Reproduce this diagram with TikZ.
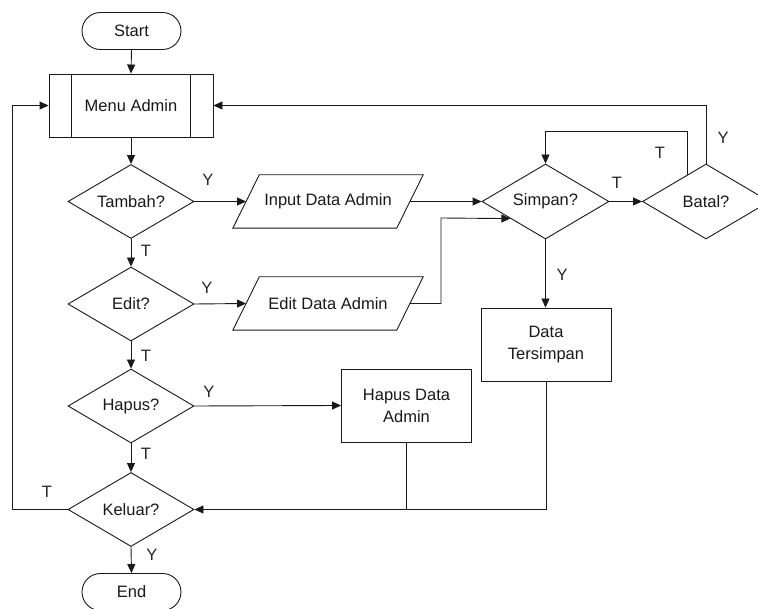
\documentclass[tikz,border=0pt]{standalone}
\usepackage{fontspec}
\setmainfont{Liberation Sans}
\usetikzlibrary{shapes.geometric,arrows.meta,calc}
\begin{document}
\begin{tikzpicture}[x=1pt,y=-1pt,
  every node/.style={font=\fontsize{16.5}{22}\selectfont, text=black!90},
  ln/.style={draw=black!90, line width=0.9pt},
  arr/.style={ln, -{Triangle[length=9pt,width=8pt]}},
  term/.style={ln, rectangle, rounded corners=18.5pt, minimum width=99pt, minimum height=37pt, inner sep=0pt},
  proc/.style={ln, rectangle, minimum width=130pt, minimum height=73pt, inner sep=0pt, align=center},
  dec/.style={ln, diamond, aspect=1.7, minimum width=126pt, minimum height=74pt, inner sep=0pt},
  io/.style={rectangle, minimum width=163.5pt, minimum height=53pt, inner sep=0pt},
  lbl/.style={inner sep=0pt, text=black!85}
]
\useasboundingbox[fill=white] (0,0) rectangle (758,609);

% nodes
\node[term] (start) at (131.5,31) {Start};
\node[ln, rectangle, minimum width=164pt, minimum height=63pt, inner sep=0pt] (menu) at (131,105.5) {Menu Admin};
\draw[ln] ([xshift=23pt]menu.north west) -- ([xshift=23pt]menu.south west);
\draw[ln] ([xshift=-23pt]menu.north east) -- ([xshift=-23pt]menu.south east);

\node[dec] (tambah) at (131,201.5) {Tambah?};
\node[dec] (edit) at (131,304) {Edit?};
\node[dec] (hapus) at (131,406) {Hapus?};
\node[dec] (keluar) at (131,509.5) {Keluar?};
\node[term] (end) at (131.5,592) {End};

\node[io] (input) at (328,201.5) {Input Data Admin};
\draw[ln] ([xshift=-13.25pt]input.south west) -- ([xshift=13.25pt]input.north west)
  -- ([xshift=13.25pt]input.north east) -- ([xshift=-13.25pt]input.south east) -- cycle;
\node[io] (edata) at (328,303.5) {Edit Data Admin};
\draw[ln] ([xshift=-13.25pt]edata.south west) -- ([xshift=13.25pt]edata.north west)
  -- ([xshift=13.25pt]edata.north east) -- ([xshift=-13.25pt]edata.south east) -- cycle;
\node[proc] (hdata) at (406.5,405.5) {Hapus Data\\Admin};

\node[dec, minimum width=127pt, minimum height=75pt] (simpan) at (545.5,201.5) {Simpan?};
\node[dec, minimum width=127pt, minimum height=75pt] (batal) at (706,201.5) {Batal?};
\node[proc] (dts) at (546,344.5) {Data\\Tersimpan};

% helper coordinates
\coordinate (ej) at (441,218);
\coordinate (sptgt) at ($(simpan.west)!0.45!(simpan.south)$);
\coordinate (btT) at ($(batal.west)!0.71!(batal.north)$);
\coordinate (lx) at (12,105.5);

% connectors
\draw[arr] (start.south) -- (menu.north);
\draw[arr] (menu.south) -- (tambah.north);
\draw[arr] (tambah.south) -- (edit.north);
\draw[arr] (edit.south) -- (hapus.north);
\draw[arr] (hapus.south) -- (keluar.north);
\draw[arr] (keluar.south) -- (end.north);

\draw[arr] (tambah.east) -- (input.west);
\draw[arr] (edit.east) -- (edata.west);
\draw[arr] (hapus.east) -- (hdata.west);

\draw[arr] (input.east) -- (simpan.west);
\draw[arr] (edata.east) -| (ej) -- (sptgt);
\draw[arr] (simpan.east) -- (batal.west);
\draw[arr] (btT) |- ([yshift=32pt]simpan.north) -- (simpan.north);
\draw[arr] (batal.north) |- (menu.east);
\draw[arr] (simpan.south) -- (simpan.south |- dts.north);

\draw[ln] (hdata.south) -- (hdata.south |- keluar.east);
\draw[arr] (dts.south) |- (keluar.east);
\draw[arr] (keluar.west) -| (lx) -- (menu.west);

% labels
\node[lbl] (l1) at (208,180) {Y};
\node[lbl] (l2) at (146,251) {T};
\node[lbl] (l3) at (207,288) {Y};
\node[lbl] (l4) at (146,356) {T};
\node[lbl] (l5) at (209,392) {Y};
\node[lbl] (l6) at (146,454) {T};
\node[lbl] (l7) at (47,492) {T};
\node[lbl] (l8) at (152,555) {Y};
\node[lbl] (l9) at (617,183) {T};
\node[lbl] (l10) at (562,275) {Y};
\node[lbl] (l11) at (660,153) {T};
\node[lbl] (l12) at (723,138) {Y};
\end{tikzpicture}
\end{document}
